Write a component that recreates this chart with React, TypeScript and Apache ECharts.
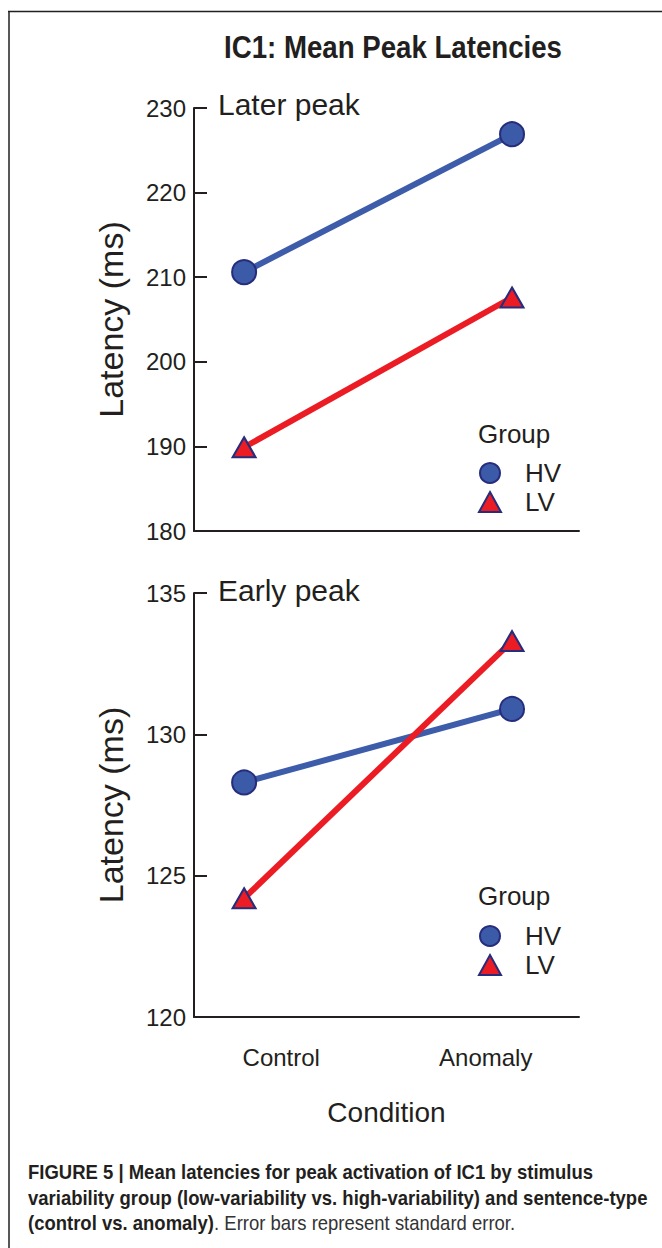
import React, { useEffect, useRef } from "react";
import * as echarts from "echarts";

const categories = ["Control", "Anomaly"];
const groups = ["HV", "LV"];
const laterHV = [210.6, 226.9];
const laterLV = [189.9, 207.6];
const earlyHV = [128.3, 130.9];
const earlyLV = [124.2, 133.3];
const laterRange = [180, 230, 10];
const earlyRange = [120, 135, 5];
const titleText = "IC1: Mean Peak Latencies";
const panelTitles = ["Later peak", "Early peak"];
const yName = "Latency (ms)";
const xName = "Condition";
const legendTitle = "Group";
const captionBold = [
  "FIGURE 5 | Mean latencies for peak activation of IC1 by stimulus",
  "variability group (low-variability vs. high-variability) and sentence-type",
  "(control vs. anomaly)",
];
const captionNormal = ". Error bars represent standard error.";

const INK = "#231f20";
const BLUE_LINE = "#3d5ca9";
const BLUE_FILL = "#3b5aa8";
const NAVY = "#262d7c";
const RED = "#ec1c24";
const FONT = "'Liberation Sans', Arial, Helvetica, sans-serif";

export default function App() {
  const ref = useRef<HTMLDivElement>(null);
  useEffect(() => {
    if (!ref.current) return;
    const chart = echarts.init(ref.current, undefined, { renderer: "svg" });

    const cv = document.createElement("canvas").getContext("2d")!;
    cv.font = "bold 20px 'Liberation Sans'";
    const capScale = 620 / cv.measureText(captionBold[1]).width;
    cv.font = "bold 31px 'Liberation Sans'";
    const titleScale = 338 / cv.measureText(titleText).width;

    const grids = [
      { left: 194, top: 108, width: 385, height: 423 },
      { left: 194, top: 593, width: 385, height: 424 },
    ];
    const ranges = [laterRange, earlyRange];

    const catAxis = (gi: number, showLabel: boolean) => ({
      type: "category",
      gridIndex: gi,
      data: categories,
      boundaryGap: true,
      position: "bottom",
      axisLine: { onZero: false, lineStyle: { color: INK, width: 2 } },
      axisTick: { inside: true, length: 10, lineStyle: { color: INK, width: 2 } },
      axisLabel: {
        show: showLabel,
        margin: 28,
        fontSize: 24,
        color: INK,
        formatter: (v: string) => (v === categories[0] ? `{c|${v}}` : `{a|${v}}`),
        rich: {
          c: { fontSize: 24, color: INK, padding: [0, 18, 0, 0] },
          a: { fontSize: 24, color: INK, padding: [0, 0, 0, 6] },
        },
      },
      name: showLabel ? xName : "",
      nameLocation: "middle",
      nameGap: 81,
      nameTextStyle: { fontSize: 28, color: INK },
    });
    const valX = (gi: number) => ({
      type: "value",
      gridIndex: gi,
      min: -0.187,
      max: 1.25,
      show: false,
      position: "bottom",
      axisLine: { onZero: false },
    });
    const yAx = (gi: number) => ({
      type: "value",
      gridIndex: gi,
      min: ranges[gi][0],
      max: ranges[gi][1],
      interval: ranges[gi][2],
      splitLine: { show: false },
      axisLine: { show: true, onZero: false, lineStyle: { color: INK, width: 2 } },
      axisTick: { show: true, inside: true, length: 13, lineStyle: { color: INK, width: 2 } },
      axisLabel: { fontSize: 24, color: INK, margin: 8 },
      name: yName,
      nameLocation: "middle",
      nameGap: 66,
      nameTextStyle: { fontSize: 34, color: INK },
    });

    const mk = (name: string, gi: number, vals: number[]) => {
      const hv = name === groups[0];
      return {
        type: "line",
        name,
        xAxisIndex: 2 + gi,
        yAxisIndex: gi,
        data: categories.map((_, i) => [i, vals[i]]),
        symbol: hv ? "circle" : "triangle",
        symbolSize: hv ? 24 : [23, 20],
        lineStyle: { width: 6, color: hv ? BLUE_LINE : RED },
        itemStyle: { color: hv ? BLUE_FILL : RED, borderColor: NAVY, borderWidth: 2 },
        z: hv ? 2 : 3,
      };
    };

    const legendAt = (top: number) => ({
      orient: "vertical",
      left: 473,
      top,
      itemWidth: 22,
      itemHeight: 20,
      itemGap: 3,
      selectedMode: false,
      data: [
        { name: groups[0], icon: "circle" },
        { name: groups[1], icon: "triangle" },
      ],
      textStyle: { fontSize: 26, color: INK, padding: [0, 0, 0, 19] },
    });

    const text = (t: string, x: number, y: number, size: number, extra: any = {}) => ({
      type: "text",
      x,
      y,
      style: {
        text: t,
        fontSize: size,
        fontFamily: FONT,
        fill: INK,
        verticalAlign: "middle",
        ...extra,
      },
    });

    const capText = (t: string, y: number) => ({
      type: "text",
      x: 28,
      y,
      scaleX: capScale,
      style: { text: t, fontSize: 20, fontWeight: "bold", fontFamily: FONT, fill: INK, verticalAlign: "middle" },
    });

    chart.setOption({
      animation: false,
      textStyle: { fontFamily: FONT },
      grid: grids,
      xAxis: [catAxis(0, false), catAxis(1, true), valX(0), valX(1)],
      yAxis: [yAx(0), yAx(1)],
      legend: [legendAt(455), legendAt(918)],
      series: [
        mk(groups[0], 0, laterHV),
        mk(groups[1], 0, laterLV),
        mk(groups[0], 1, earlyHV),
        mk(groups[1], 1, earlyLV),
      ],
      graphic: [
        { type: "line", shape: { x1: 8, y1: 11.5, x2: 662, y2: 11.5 }, style: { stroke: INK, lineWidth: 1.5 } },
        { type: "line", shape: { x1: 9, y1: 11, x2: 9, y2: 1248 }, style: { stroke: INK, lineWidth: 1.5 } },
        { ...text(titleText, 393, 47, 31, { fontWeight: "bold", align: "center" }), scaleX: titleScale },
        text(panelTitles[0], 218, 104, 30),
        text(panelTitles[1], 218, 590, 30),
        text(legendTitle, 478, 434, 26),
        text(legendTitle, 478, 896, 26),
        capText(captionBold[0], 1172),
        capText(captionBold[1], 1198),
        {
          type: "text",
          x: 28,
          y: 1223,
          scaleX: capScale,
          style: {
            text: `{b|${captionBold[2]}}{n|${captionNormal}}`,
            fontSize: 20,
            fontFamily: FONT,
            fill: INK,
            verticalAlign: "middle",
            rich: {
              b: { fontSize: 20, fontWeight: "bold", fontFamily: FONT, fill: INK },
              n: { fontSize: 20, fontWeight: "normal", fontFamily: FONT, fill: "#333" },
            },
          },
        },
      ],
    });
    return () => chart.dispose();
  }, []);
  return (
    <div
      ref={ref}
      style={{ position: "absolute", left: 0, top: 0, width: 662, height: 1248, background: "#fff" }}
    />
  );
}
